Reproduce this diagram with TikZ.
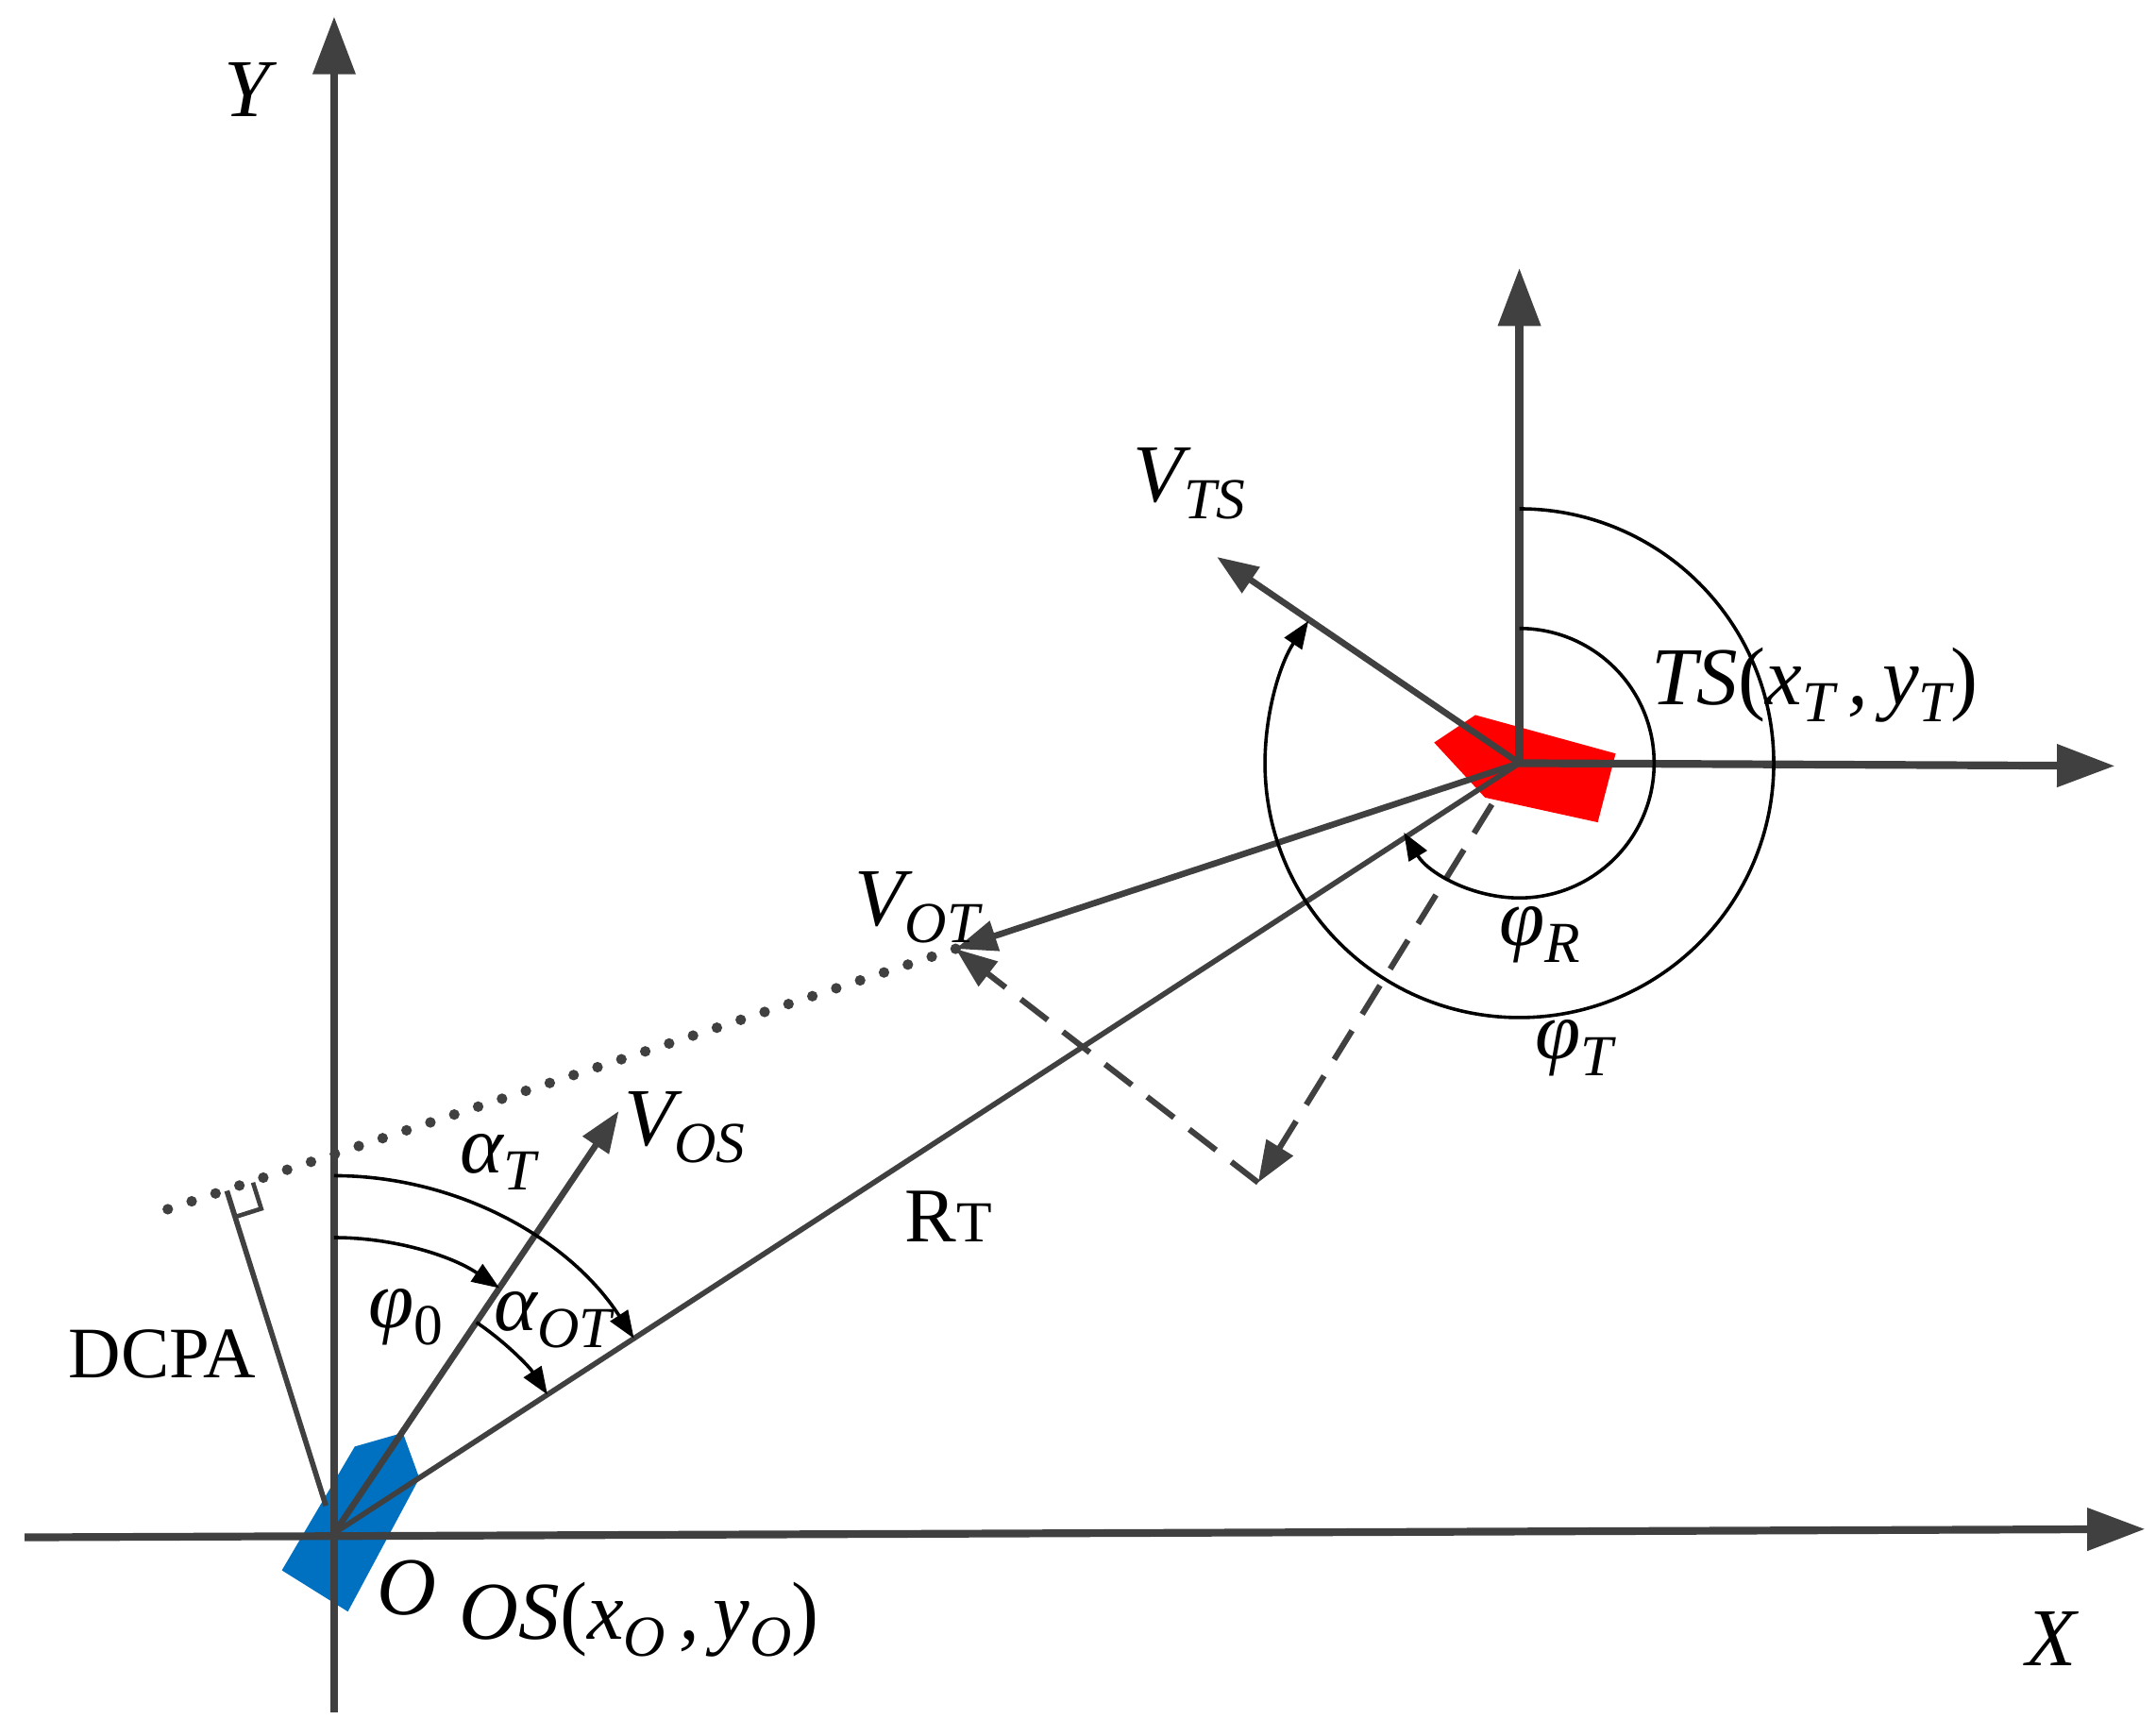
\documentclass[tikz,border=0pt]{standalone}
\usepackage{fontspec}
\setmainfont{Liberation Serif}
\usetikzlibrary{arrows.meta}
\newcommand{\lsub}[1]{\raisebox{-0.45ex}{\fontsize{12}{14}\selectfont #1}}
\begin{document}
\begin{tikzpicture}[x=0.01cm,y=-0.01cm,
  ax/.style={draw=axc,line width=1.6pt,-{Triangle[length=0.42cm,width=0.3cm]}},
  vec/.style={draw=axc,line width=1.3pt,-{Triangle[length=0.3cm,width=0.22cm]}},
  thin/.style={draw=axc,line width=1.1pt},
  arcs/.style={draw=black,line width=0.7pt,-{Triangle[length=0.2cm,width=0.15cm]}},
  lab/.style={font=\fontsize{17}{20}\selectfont\itshape,inner sep=0pt}]
\definecolor{axc}{HTML}{404040}
\useasboundingbox (0,0) rectangle (1568,1262);
\coordinate (O) at (243,1115);
\coordinate (T) at (1105,555);
\coordinate (Ytop) at (243,12);
\coordinate (Ybot) at (243,1245);
\coordinate (Xl) at (18,1118);
\coordinate (Xr) at (1560,1112);
\coordinate (TY) at (1105,195);
\coordinate (TX) at (1538,557);
\coordinate (VTS) at (885,405);
\coordinate (VOT) at (695,690);
\coordinate (DL) at (105,885);
\coordinate (VOS) at (450,808);
\coordinate (C) at (915,860);
\coordinate (Dq) at (1085,585);
\coordinate (Dp) at (165,866);
\coordinate (Ra) at (184,860);
\coordinate (Rc) at (190,879);
\coordinate (Rb) at (171,885);
% ships
\fill[fill=red] (1043,540) -- (1073,520) -- (1175,548) -- (1162,598) -- (1080,580) -- cycle;
\fill[fill={rgb,255:red,0;green,112;blue,192}] (205,1142) -- (258,1052) -- (293,1042) -- (305,1075) -- (253,1172) -- cycle;
% axes
\draw[ax] (Ybot) -- (Ytop);
\draw[ax] (Xl) -- (Xr);
\draw[ax] (T) -- (TY);
\draw[ax] (T) -- (TX);
% vectors
\draw[vec] (T) -- (VTS);
\draw[vec] (T) -- (VOT);
\draw[vec] (O) -- (VOS);
\draw[thin] (O) -- (T);
\draw[axc,line width=2.2pt,line cap=round,dash pattern=on 0pt off 5.2pt] (VOT) -- (DL);
\draw[axc,line width=1.2pt,dash pattern=on 7pt off 4pt,-{Triangle[length=0.3cm,width=0.22cm]}] (C) -- (VOT);
\draw[axc,line width=1.2pt,dash pattern=on 7pt off 4pt,-{Triangle[length=0.3cm,width=0.22cm]}] (Dq) -- (C);
% DCPA
\draw[thin] (237,1095) -- (Dp);
\draw[axc,line width=0.9pt] (Ra) -- (Rc) -- (Rb);
% arcs
\draw[arcs] (O) ++(0,-260) arc[start angle=-90,end angle=-33,radius=260];
\draw[arcs] (O) ++(0,-215) arc[start angle=-90,end angle=-56,radius=215];
\draw[arcs] (O) ++(-56:185) arc[start angle=-56,end angle=-33,radius=185];
\draw[arcs] (T) ++(0,-98) arc[start angle=-90,end angle=149,radius=98];
\draw[arcs] (T) ++(0,-185) arc[start angle=-90,end angle=214,radius=185];
% labels
\node[lab] (ly) at (180,65) {Y};
\node[lab] (lx) at (1492,1192) {X};
\node[lab] (lo) at (296,1155) {O};
\node[lab] (los) at (465,1178) {OS\textup{(}x\lsub{O}\,,\,y\lsub{O}\textup{)}};
\node[lab] (lts) at (1320,498) {TS\textup{(}x\lsub{T}\,,\,y\lsub{T}\textup{)}};
\node[lab] (lvts) at (865,352) {V\lsub{TS}};
\node[lab] (lvot) at (667,660) {V\lsub{OT}};
\node[lab] (lvos) at (498,820) {V\lsub{OS}};
\node[lab] (lat) at (362,845) {α\lsub{T}};
\node[lab] (lp0) at (295,958) {φ\lsub{\upshape 0}};
\node[lab] (laot) at (402,960) {α\lsub{OT}};
\node[lab] (lpr) at (1120,680) {φ\lsub{R}};
\node[lab] (lpt) at (1145,762) {φ\lsub{T}};
\node[font=\fontsize{16}{18}\selectfont,inner sep=0pt] (lrt) at (690,885) {R{\fontsize{12}{14}\selectfont T}};
\node[font=\fontsize{15}{18}\selectfont,inner sep=0pt] (ldc) at (118,985) {DCPA};
\end{tikzpicture}
\end{document}
